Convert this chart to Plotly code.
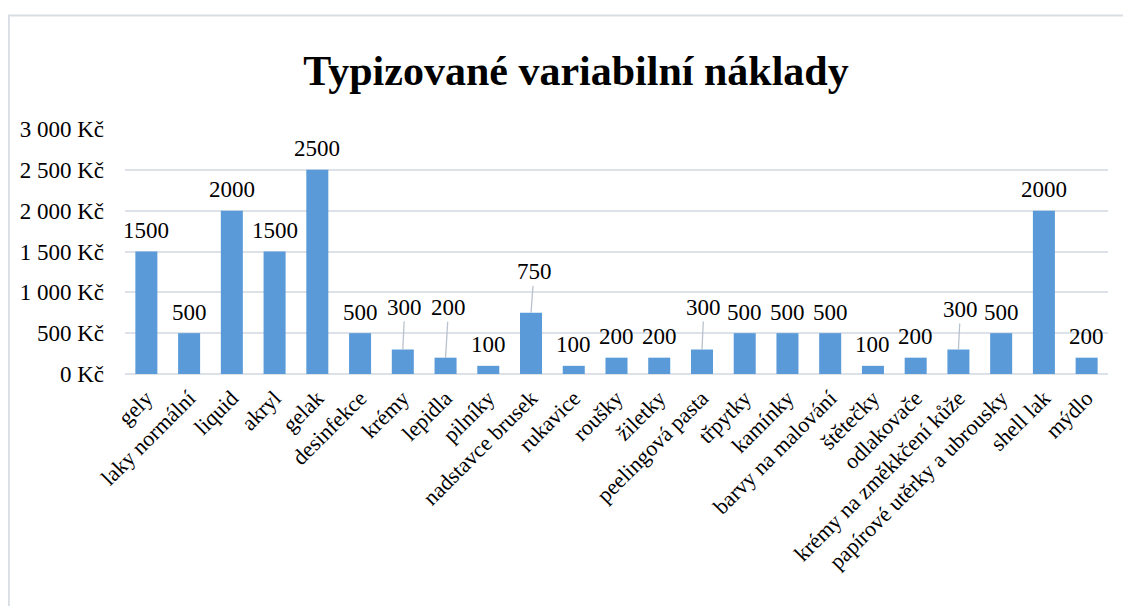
import plotly.graph_objects as go

# ---------------- data ----------------
categories = [
    "gely", "laky normální", "liquid", "akryl", "gelak", "desinfekce", "krémy",
    "lepidla", "pilníky", "nadstavce brusek", "rukavice", "roušky", "žiletky",
    "peelingová pasta", "třpytky", "kamínky", "barvy na malování", "štětečky",
    "odlakovače", "krémy na změkkčení kůže", "papírové utěrky a ubrousky",
    "shell lak", "mýdlo",
]
values = [1500, 500, 2000, 1500, 2500, 500, 300, 200, 100, 750, 100, 200, 200,
          300, 500, 500, 500, 100, 200, 300, 500, 2000, 200]
tick_values = [0, 500, 1000, 1500, 2000, 2500, 3000]
tick_labels = ["0 Kč", "500 Kč", "1 000 Kč", "1 500 Kč", "2 000 Kč", "2 500 Kč", "3 000 Kč"]
title_text = "Typizované variabilní náklady"

# label offsets (pixels) for labels drawn with leader lines
leader_offsets = {
    "krémy": (2, -42),
    "lepidla": (3, -50),
    "nadstavce brusek": (3, -41),
    "peelingová pasta": (2, -42),
    "krémy na změkkčení kůže": (2, -40),
}

# ---------------- layout constants ----------------
W, H = 1131, 606
OFF = 8  # page body margin
ML, MT = 125 - OFF, 129 - OFF
MR = W - (1108 - OFF)
MB = H - (374 - OFF)
PW, PH = W - ML - MR, H - MT - MB
SERIF = "Liberation Serif"
GRID = "#dde1e8"

fig = go.Figure(
    go.Bar(
        x=categories,
        y=values,
        marker=dict(color="#5a9ad8", line=dict(width=0)),
        hoverinfo="x+y",
    )
)

annotations = []
for c, v in zip(categories, values):
    if c in leader_offsets:
        ax, ay = leader_offsets[c]
        annotations.append(dict(
            x=c, y=v, xref="x", yref="y", text=str(v),
            showarrow=True, arrowhead=0, arrowwidth=1.3, arrowcolor="#b8c2cf",
            ax=ax, ay=ay, standoff=0,
            font=dict(family=SERIF, size=23, color="#000000"),
        ))
    else:
        annotations.append(dict(
            x=c, y=v, xref="x", yref="y", text=str(v),
            showarrow=False, yanchor="middle", yshift=21,
            font=dict(family=SERIF, size=23, color="#000000"),
        ))

# outer chart frame (light grey), extends past right/bottom edges
def px_to_paper_x(px):
    return (px - ML) / PW

def px_to_paper_y(py):
    return (H - MB - py) / PH

shapes = [dict(
    type="rect", xref="paper", yref="paper",
    x0=px_to_paper_x(0.8), x1=px_to_paper_x(W + 30),
    y0=px_to_paper_y(H + 30), y1=px_to_paper_y(7.5),
    line=dict(color="#d9dde4", width=2), fillcolor="rgba(0,0,0,0)", layer="below",
)]

fig.update_layout(
    width=W, height=H,
    margin=dict(l=ML, r=MR, t=MT, b=MB, autoexpand=False),
    paper_bgcolor="white", plot_bgcolor="white",
    bargap=0.485,
    showlegend=False,
    title=dict(
        text=title_text, x=(576 - OFF) / W, xref="container", xanchor="center",
        y=1 - (70 - OFF) / H, yref="container", yanchor="middle",
        font=dict(family=SERIF, size=42, color="#000000", weight="bold"),
    ),
    xaxis=dict(
        tickangle=-45, showgrid=False, showline=False, zeroline=False, ticks="",
        tickfont=dict(family=SERIF, size=22, color="#000000"),
        ticklabelstandoff=6, range=[-0.5, len(categories) - 0.5],
    ),
    yaxis=dict(
        range=[0, 3000], tickvals=tick_values, ticktext=tick_labels,
        showgrid=True, gridcolor=GRID, gridwidth=1.5,
        zeroline=True, zerolinecolor=GRID, zerolinewidth=1.5,
        showline=False, ticks="",
        tickfont=dict(family=SERIF, size=23, color="#000000"),
        ticklabelstandoff=20,
    ),
    annotations=annotations,
    shapes=shapes,
)

fig.write_html("out.html")
